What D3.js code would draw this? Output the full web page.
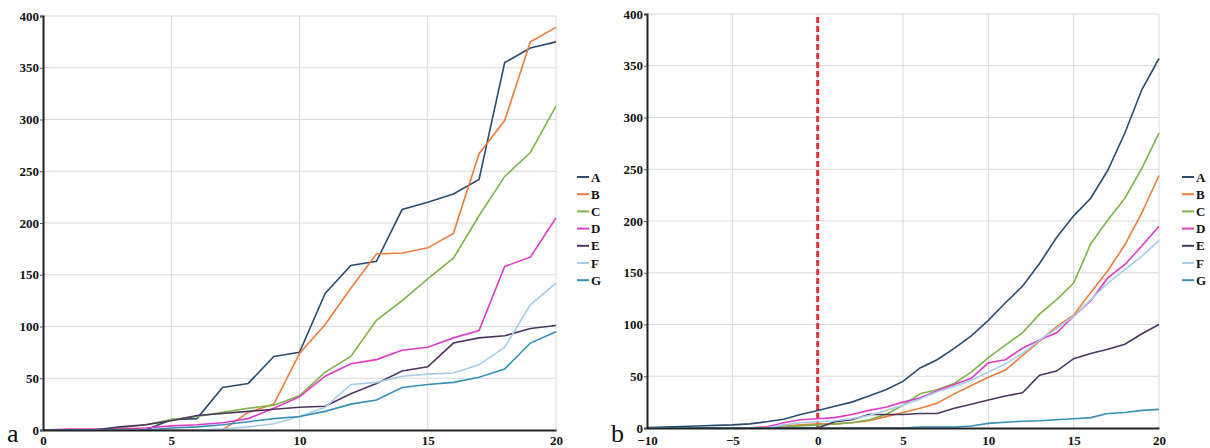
<!DOCTYPE html>
<html>
<head>
<meta charset="utf-8">
<script src="https://cdn.jsdelivr.net/npm/d3@7"></script>
<style>
  body { margin: 0; background: #fff; }
  svg { display: block; }
</style>
</head>
<body>
<div id="chart"></div>
<script>
// series names and colours
const seriesNames = ["A", "B", "C", "D", "E", "F", "G"];
const seriesColors = ["#2b4c6f", "#ec7c3c", "#7cb34a", "#e23cc4", "#4e3560", "#a6cde8", "#3590ba"];

// panel a
const xLeft = [0, 1, 2, 3, 4, 5, 6, 7, 8, 9, 10, 11, 12, 13, 14, 15, 16, 17, 18, 19, 20];
const leftA = [0, 0, 0, 0, 0, 10, 11, 41, 45, 71, 75, 132, 159, 163, 213, 220, 228, 242, 355, 369, 375];
const leftB = [0, 0, 0, 0, 0, 0, 0, 0, 17, 25, 74, 102, 137, 170, 171, 176, 190, 267, 299, 375, 389];
const leftC = [0, 0, 0, 2, 5, 10, 13, 17, 21, 24, 33, 56, 71, 106, 125, 146, 166, 207, 245, 268, 313];
const leftD = [0, 1, 1, 1, 2, 4, 5, 7, 11, 21, 32, 52, 64, 68, 77, 80, 89, 96, 158, 167, 205];
const leftE = [0, 0, 0, 3, 5, 9, 14, 16, 18, 20, 22, 23, 35, 45, 57, 61, 84, 89, 91, 98, 101];
const leftF = [0, 0, 0, 0, 0, 0, 0, 1, 3, 6, 13, 22, 44, 46, 52, 54, 55, 63, 80, 121, 142];
const leftG = [0, 0, 0, 0, 0, 2, 3, 5, 8, 11, 13, 18, 25, 29, 41, 44, 46, 51, 59, 84, 95];

// panel b
const xRight = [-10, -9, -8, -7, -6, -5, -4, -3, -2, -1, 0, 1, 2, 3, 4, 5, 6, 7, 8, 9, 10,
                11, 12, 13, 14, 15, 16, 17, 18, 19, 20];
const rightA = [0.5, 1, 1.5, 2, 2.5, 3, 4, 6, 8.5, 13, 17, 21, 25, 31, 37, 45, 58, 66, 77, 89, 104,
                121, 137, 159, 184, 205, 222, 249, 285, 327, 357];
const rightB = [0, 0, 0, 0, 0, 0, 0, 1, 2, 3, 4, 4, 5, 7, 11, 15, 19, 24, 33, 41, 49,
                56, 70, 84, 98, 109, 131, 152, 177, 208, 244];
const rightC = [0, 0, 0, 0, 0, 0, 0, 0, 1, 2, 3, 4, 5, 8, 13, 22, 33, 37, 43, 54, 68,
                80, 92, 110, 124, 140, 178, 201, 222, 251, 285];
const rightD = [0, 0, 0, 0, 0, 0, 0, 1, 5, 8, 9, 10, 13, 17, 20, 25, 29, 36, 42, 48, 63,
                66, 77, 85, 92, 108, 123, 145, 158, 176, 195];
const rightE = [0, 0, 0, 0, 0, 0, 0, 0, 0, 0, 0, 6, 8, 13, 13, 13, 14, 14, 19, 23, 27,
                31, 34, 51, 55, 67, 72, 76, 81, 91, 100];
const rightF = [0, 0, 0, 0, 0, 0, 0, 0, 3, 5, 6, 7, 9, 12, 17, 22, 28, 35, 40, 46, 54,
                62, 72, 85, 96, 108, 124, 140, 153, 166, 181];
const rightG = [0, 0, 0, 0, 0, 0, 0, 0, 0, 0, 0, 0, 0, 0, 0, 0, 1, 1, 1, 2, 4.5,
                5.5, 6.5, 7, 8, 9, 10, 14, 15, 17, 18];

const yTicks = [0, 50, 100, 150, 200, 250, 300, 350, 400];
const xTicksLeft = [0, 5, 10, 15, 20];
const xTicksRight = [-10, -5, 0, 5, 10, 15, 20];
const markerX = 0;

const serif = "'Liberation Serif', 'Times New Roman', serif";

const svg = d3.select("#chart").append("svg")
    .attr("width", 1210)
    .attr("height", 448);

function styleTicks(axisG) {
    axisG.selectAll("text")
        .attr("font-family", serif)
        .attr("font-weight", "bold")
        .attr("font-size", 13)
        .attr("fill", "#111");
}

function drawPanel(p) {
    const x = d3.scaleLinear().domain(p.xDomain).range(p.xRange);
    const y = d3.scaleLinear().domain([0, 400]).range(p.yRange);
    const g = svg.append("g");

    // grid
    g.selectAll(".hgrid").data(yTicks.slice(1)).enter().append("line")
        .attr("x1", p.xRange[0]).attr("x2", p.xRange[1])
        .attr("y1", d => y(d)).attr("y2", d => y(d))
        .attr("stroke", "#d9d9d9").attr("stroke-width", 1);
    g.selectAll(".vgrid").data(p.xTicks.slice(1)).enter().append("line")
        .attr("x1", d => x(d)).attr("x2", d => x(d))
        .attr("y1", p.yRange[0]).attr("y2", p.yRange[1])
        .attr("stroke", "#d9d9d9").attr("stroke-width", 1);

    // marker line
    if (p.marker !== undefined) {
        g.append("line")
            .attr("x1", x(p.marker)).attr("x2", x(p.marker))
            .attr("y1", p.yRange[0]).attr("y2", p.yRange[1])
            .attr("stroke", "#e0333f").attr("stroke-width", 3)
            .attr("stroke-dasharray", "6,3");
    }

    // series
    const line = d3.line().x((d, i) => x(p.xs[i])).y(d => y(d));
    p.series.forEach((vals, i) => {
        g.append("path")
            .datum(vals)
            .attr("d", line)
            .attr("fill", "none")
            .attr("stroke", seriesColors[i])
            .attr("stroke-width", 1.6);
    });

    // axes
    const yAxis = g.append("g")
        .attr("transform", `translate(${p.xRange[0]},0)`)
        .call(d3.axisLeft(y).tickValues(yTicks).tickSize(3).tickPadding(1));
    yAxis.select(".domain").attr("stroke", "#222").attr("stroke-width", 2);
    yAxis.selectAll(".tick line").attr("stroke", "#555");
    styleTicks(yAxis);

    const xAxis = g.append("g")
        .attr("transform", `translate(0,${p.yRange[0]})`)
        .call(d3.axisBottom(x).tickValues(p.xTicks).tickSize(0).tickPadding(p.xPad));
    xAxis.select(".domain").attr("stroke", "#222").attr("stroke-width", 2);
    styleTicks(xAxis);

    // legend
    const leg = g.append("g");
    seriesNames.forEach((name, i) => {
        const ly = p.legendY + i * 17.2;
        leg.append("line")
            .attr("x1", p.legendX).attr("x2", p.legendX + 12)
            .attr("y1", ly).attr("y2", ly)
            .attr("stroke", seriesColors[i]).attr("stroke-width", 2);
        leg.append("text")
            .attr("x", p.legendX + 14).attr("y", ly + 4.5)
            .attr("font-family", serif)
            .attr("font-weight", "bold")
            .attr("font-size", 13)
            .attr("fill", "#111")
            .text(name);
    });

    // panel letter
    g.append("text")
        .attr("x", p.letterX).attr("y", 442)
        .attr("font-family", serif)
        .attr("font-size", 26)
        .attr("fill", "#111")
        .text(p.letter);
}

drawPanel({
    xs: xLeft,
    series: [leftA, leftB, leftC, leftD, leftE, leftF, leftG],
    xDomain: [0, 20], xRange: [43, 556], yRange: [430, 16],
    xTicks: xTicksLeft, xPad: 6,
    legendX: 577, legendY: 177,
    letter: "a", letterX: 7
});

drawPanel({
    xs: xRight,
    series: [rightA, rightB, rightC, rightD, rightE, rightF, rightG],
    xDomain: [-10, 20], xRange: [647, 1159], yRange: [428, 14],
    xTicks: xTicksRight, xPad: 8,
    marker: markerX,
    legendX: 1182, legendY: 177,
    letter: "b", letterX: 611
});
</script>
</body>
</html>
